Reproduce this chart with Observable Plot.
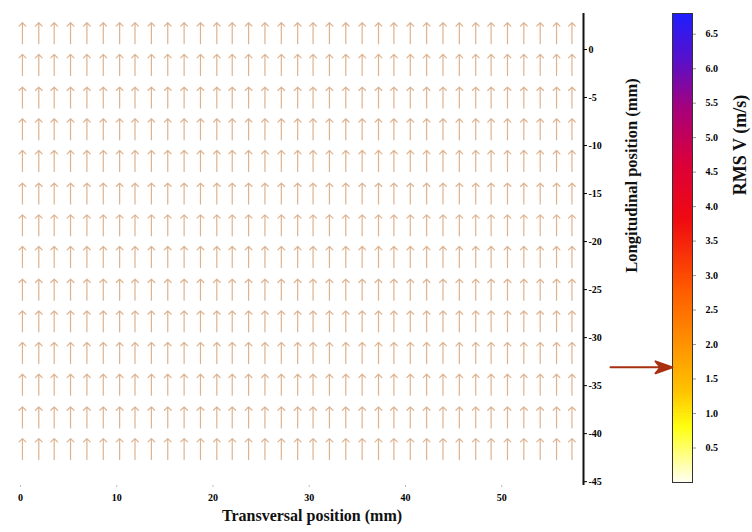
<!DOCTYPE html>
<html>
<head>
<meta charset="utf-8">
<script src="https://cdn.jsdelivr.net/npm/d3@7"></script>
<script src="https://cdn.jsdelivr.net/npm/@observablehq/plot@0.6"></script>
<style>
  html, body { margin: 0; padding: 0; background: #fff; }
  #wrap { position: relative; width: 752px; height: 532px; overflow: hidden; }
  #wrap > svg { position: absolute; top: 0; }
</style>
</head>
<body>
<div id="wrap"></div>
<script>
// ---- data ----
const transversalPositions = [0.2, 1.9, 3.5, 5.2, 6.9, 8.6, 10.3, 11.9, 13.6, 15.3, 17.0, 18.7, 20.4, 22.0, 23.7, 25.4, 27.1, 28.8, 30.4, 32.1, 33.8, 35.5, 37.2, 38.8, 40.5, 42.2, 43.9, 45.6, 47.3, 48.9, 50.6, 52.3, 54.0, 55.7, 57.3];
const longitudinalPositions = [0.6, -2.7, -6.1, -9.4, -12.7, -16.1, -19.4, -22.7, -26.1, -29.4, -32.7, -36.0, -39.4, -42.7];
const flowDirectionDeg = 0;      // all vectors point upward
const xTicks = [0, 10, 20, 30, 40, 50];
const yTicks = [0, -5, -10, -15, -20, -25, -30, -35, -40, -45];
const colorTicks = [0.5, 1.0, 1.5, 2.0, 2.5, 3.0, 3.5, 4.0, 4.5, 5.0, 5.5, 6.0, 6.5];
const colorStops = [0, 0.8, 1.3, 2.0, 2.8, 3.8, 4.6, 5.4, 6.1, 6.8];
const colorHexes = ["#fffff2", "#ffff10", "#ffc400", "#ff9200", "#ff5a00", "#f00a10", "#dc0038", "#a8007a", "#5a10c8", "#1e1eff"];
const rmsV = 1.67;  // value marked by the pointer on the colour bar

const field = [];
for (const y of longitudinalPositions) for (const x of transversalPositions) field.push({x, y});

const serif = "'Liberation Serif', 'DejaVu Serif', serif";

// ---- main vector field ----
const main = Plot.plot({
  width: 752,
  height: 532,
  marginLeft: 20,
  marginRight: 169,
  marginTop: 13,
  marginBottom: 47,
  style: {fontFamily: serif, fontWeight: "bold", fontSize: "10px", background: "transparent", overflow: "visible"},
  x: {domain: [0, 58.5]},
  y: {domain: [-45.4, 3.75]},
  marks: [
    Plot.vector(field, {x: "x", y: "y", rotate: flowDirectionDeg, length: 21, anchor: "start",
      stroke: "#d8a47a", strokeWidth: 1.2, strokeOpacity: 0.85, r: 2.8}),
    Plot.ruleX([58.5], {stroke: "#111", strokeWidth: 2}),
    Plot.axisX({ticks: xTicks, tickSize: 2, tickPadding: 6, stroke: "#bbb", tickFormat: d => String(d), label: null}),
    Plot.axisY({anchor: "right", ticks: yTicks, tickSize: 3, tickPadding: 2, tickFormat: d => String(d).replace("\u2212", "-"), label: null}),
    Plot.text(["Transversal position (mm)"], {frameAnchor: "bottom", dy: 35, dx: 10, fontSize: 16, fontWeight: "bold", fill: "#111"}),
    Plot.text(["Longitudinal position (mm)"], {frameAnchor: "right", textAnchor: "middle", dx: 48, dy: -74, rotate: -90, fontSize: 16.5, fontWeight: "bold", fill: "#111"})
  ]
});
main.style.left = "0px";
document.getElementById("wrap").appendChild(main);

// ---- colour bar ----
const step = 0.02;
const bands = d3.range(0, 6.8, step);
const bar = Plot.plot({
  width: 152,
  height: 532,
  marginLeft: 72,
  marginRight: 60,
  marginTop: 13,
  marginBottom: 50,
  style: {fontFamily: serif, fontWeight: "bold", fontSize: "10px", background: "transparent", overflow: "visible"},
  x: {domain: [0, 1], axis: null},
  y: {domain: [0, 6.8]},
  color: {type: "linear", domain: colorStops, range: colorHexes, interpolate: "rgb"},
  marks: [
    Plot.rect(bands, {x1: 0, x2: 1, y1: d => d, y2: d => Math.min(6.8, d + step + 0.01), fill: d => d + step / 2, shapeRendering: "crispEdges"}),
    Plot.frame({stroke: "#333", strokeWidth: 1}),
    Plot.axisY({anchor: "right", ticks: colorTicks, tickSize: 3, tickPadding: 10, tickFormat: d => d.toFixed(1), label: null, stroke: "#999"}),
    Plot.vector([rmsV], {x: 0, y: d => d, rotate: 90, length: 62, anchor: "end",
      stroke: "#a83010", fill: "#a83010", strokeWidth: 2,
      shape: {draw(context, l) {
        context.moveTo(0, 0);
        context.lineTo(0, -l + 8);
        context.moveTo(0, -l);
        context.lineTo(-6, -l + 17);
        context.lineTo(0, -l + 12);
        context.lineTo(6, -l + 17);
        context.closePath();
      }}}),
    Plot.text(["RMS V (m/s)"], {frameAnchor: "right", textAnchor: "middle", dx: 48, dy: -103, rotate: -90, fontSize: 18, fontWeight: "bold", fill: "#111"})
  ]
});
bar.style.left = "600px";
document.getElementById("wrap").appendChild(bar);
</script>
</body>
</html>
